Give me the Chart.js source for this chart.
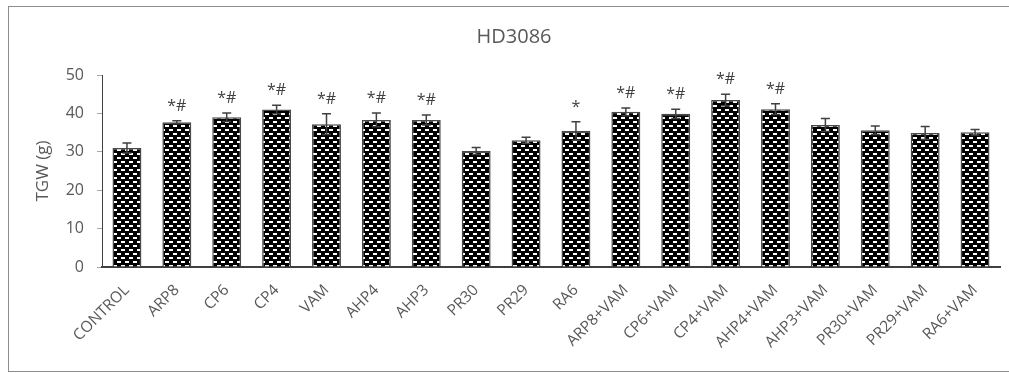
<!DOCTYPE html>
<html>
<head>
<meta charset="utf-8">
<script src="https://cdn.jsdelivr.net/npm/chart.js@4"></script>
<style>
  html, body { margin: 0; padding: 0; background: #fff; }
  #wrap { position: relative; width: 1009px; height: 373px; overflow: hidden; }
  #frame { position: absolute; left: 8px; top: 6px; width: 1001px; height: 364px; border: 1px solid #8c8c8c; }
  canvas { position: absolute; left: 0; top: 0; }
</style>
</head>
<body>
<div id="wrap">
  <div id="frame"></div>
  <canvas id="tgwChart" width="1009" height="373"></canvas>
</div>
<script>
// Data
const treatments = ['CONTROL', 'ARP8', 'CP6', 'CP4', 'VAM', 'AHP4', 'AHP3', 'PR30', 'PR29', 'RA6',
  'ARP8+VAM', 'CP6+VAM', 'CP4+VAM', 'AHP4+VAM', 'AHP3+VAM', 'PR30+VAM', 'PR29+VAM', 'RA6+VAM'];
const tgw = [31.0, 37.7, 39.0, 41.0, 37.2, 38.3, 38.3, 30.2, 33.0, 35.4,
  40.4, 39.9, 43.5, 41.1, 37.0, 35.6, 34.9, 35.1];
const tgwErr = [1.3, 0.4, 1.1, 1.1, 2.7, 1.8, 1.3, 0.9, 0.8, 2.4,
  1.0, 1.2, 1.5, 1.4, 1.7, 1.1, 1.7, 0.7];
const marks = ['', '*#', '*#', '*#', '*#', '*#', '*#', '', '', '*',
  '*#', '*#', '*#', '*#', '', '', '', ''];
const yTicks = [0, 10, 20, 30, 40, 50];

const fontFamily = '"Open Sans", sans-serif';
const textColor = '#595959';

// Brick pattern fill for the bars
function makePattern() {
  const c = document.createElement('canvas');
  c.width = 8;
  c.height = 8;
  const p = c.getContext('2d');
  p.fillStyle = '#000';
  p.fillRect(0, 0, 8, 8);
  p.fillStyle = '#fff';
  p.fillRect(1, 1, 4, 2);
  p.fillRect(5, 5, 3, 2);
  p.fillRect(0, 5, 1, 2);
  return p.createPattern(c, 'repeat');
}

// Error bars, significance marks and the title
const extras = {
  id: 'extras',
  afterDatasetsDraw(chart) {
    const ctx = chart.ctx;
    const y = chart.scales.y;
    const meta = chart.getDatasetMeta(0);
    ctx.save();
    ctx.strokeStyle = '#404040';
    ctx.lineWidth = 1.5;
    meta.data.forEach((bar, i) => {
      const top = y.getPixelForValue(tgw[i] + tgwErr[i]);
      const bot = y.getPixelForValue(tgw[i] - tgwErr[i]);
      ctx.beginPath();
      ctx.moveTo(bar.x, bot);
      ctx.lineTo(bar.x, top);
      ctx.moveTo(bar.x - 4.5, top);
      ctx.lineTo(bar.x + 4.5, top);
      ctx.moveTo(bar.x - 4.5, bot);
      ctx.lineTo(bar.x + 4.5, bot);
      ctx.stroke();
      if (marks[i]) {
        ctx.fillStyle = '#404040';
        ctx.font = '16px ' + fontFamily;
        ctx.textAlign = 'center';
        ctx.textBaseline = 'alphabetic';
        ctx.fillText(marks[i], bar.x, top - 10);
      }
    });
    ctx.fillStyle = textColor;
    ctx.font = '20px ' + fontFamily;
    ctx.textAlign = 'center';
    ctx.textBaseline = 'middle';
    ctx.fillText('HD3086', 514, 37);
    ctx.restore();
  }
};

const tgwChart = new Chart(document.getElementById('tgwChart'), {
  type: 'bar',
  data: {
    labels: treatments,
    datasets: [{
      label: 'TGW',
      data: tgw,
      backgroundColor: makePattern(),
      borderColor: '#4a4a4a',
      borderWidth: 1.5,
      categoryPercentage: 1,
      barPercentage: 0.58
    }]
  },
  options: {
    responsive: false,
    animation: false,
    layout: { padding: { top: 75, right: 9, left: 0, bottom: 0 } },
    plugins: {
      legend: { display: false },
      tooltip: { enabled: false },
      title: { display: false }
    },
    scales: {
      x: {
        grid: { display: false },
        border: { color: '#404040', width: 2 },
        ticks: {
          color: textColor,
          font: { family: fontFamily, size: 15.5 },
          maxRotation: 45,
          minRotation: 45,
          autoSkip: false,
          padding: 6
        },
        afterFit(scale) { scale.height = 106; }
      },
      y: {
        min: 0,
        max: 50,
        afterBuildTicks(scale) { scale.ticks = yTicks.map(v => ({ value: v })); },
        grid: { drawOnChartArea: false, color: '#a6a6a6', tickLength: 5 },
        border: { color: '#404040', width: 1 },
        ticks: {
          color: textColor,
          font: { family: fontFamily, size: 16 },
          padding: 13
        },
        title: {
          display: true,
          text: 'TGW (g)',
          color: textColor,
          font: { family: fontFamily, size: 17 },
          padding: { top: 33, bottom: 0 }
        },
        afterFit(scale) { scale.width = 102; }
      }
    }
  },
  plugins: [extras]
});
</script>
</body>
</html>
